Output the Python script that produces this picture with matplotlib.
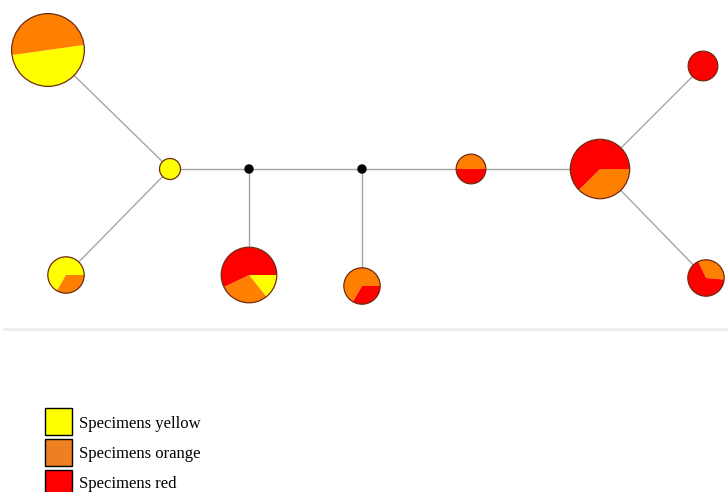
import matplotlib.pyplot as plt
from matplotlib.patches import Circle, Rectangle

# specimen counts per haplotype
haplotypes = ["H1", "H2", "H3", "H4", "H5", "H6", "H7", "H8", "H9"]
yellow = [6, 1, 2, 1, 0, 0, 0, 0, 0]
orange = [6, 0, 1, 2, 2, 1, 3, 0, 1]
red = [0, 0, 0, 4, 1, 1, 5, 2, 2]

legend_labels = ["Specimens yellow", "Specimens orange", "Specimens red"]

# network layout in pixels (y upwards)
node_xy = {
    "H1": (48, 442), "H2": (170, 323), "H3": (66, 217),
    "H4": (249, 217), "H5": (362, 206), "H6": (471, 323),
    "H7": (600, 323), "H8": (703, 426), "H9": (706, 214),
    "mv1": (249, 323), "mv2": (362, 323),
}
start_angle = [8, 90, 240, 0, 240, 180, 0, 90, 115]
links = [("H1", "H2"), ("H2", "H3"), ("H2", "mv1"), ("mv1", "H4"),
         ("mv1", "mv2"), ("mv2", "H5"), ("mv2", "H6"), ("H6", "H7"),
         ("H7", "H8"), ("H7", "H9")]

pie_colors = ["#ffff00", "#ff8000", "#ff0000"]
key_colors = ["#ffff00", "#ee8022", "#ff0000"]
outline = "#6e2d12"
r0 = 10.5

fig = plt.figure(figsize=(7.28, 4.92), dpi=100)
ax = fig.add_axes([0, 0, 1, 1])

for a, b in links:
    (x1, y1), (x2, y2) = node_xy[a], node_xy[b]
    ax.plot([x1, x2], [y1, y2], color="#a5a5a5", lw=1.0, zorder=1)

for mv in ["mv1", "mv2"]:
    ax.add_patch(Circle(node_xy[mv], 4, color="black", zorder=3))

for i, h in enumerate(haplotypes):
    counts = [yellow[i], orange[i], red[i]]
    vals = [c for c in counts if c > 0]
    cols = [pie_colors[k] for k, c in enumerate(counts) if c > 0]
    r = r0 * sum(counts) ** 0.5
    wedges, _ = ax.pie(vals, colors=cols, startangle=start_angle[i],
                       counterclock=False, center=node_xy[h], radius=r,
                       frame=True, wedgeprops=dict(linewidth=0))
    for w in wedges:
        w.set_zorder(3)
    ax.add_patch(Circle(node_xy[h], r, fill=False, ec=outline, lw=0.9, zorder=4))

# separator under the network
ax.plot([4, 728], [163, 163], color="#ececec", lw=1.8, zorder=0)

# colour key
for k, label in enumerate(legend_labels):
    top = 492 - 408 - 31 * k
    ax.add_patch(Rectangle((45, top - 27), 27, 27, fc=key_colors[k],
                           ec="black", lw=1.0, zorder=3))
    ax.text(79, 492 - 428 - 30 * k, label, family="Liberation Serif",
            fontsize=12, va="baseline", ha="left")

ax.set_xlim(0, 728)
ax.set_ylim(0, 492)
ax.set_aspect("equal")
ax.axis("off")
fig.savefig("out.png", dpi=100)
